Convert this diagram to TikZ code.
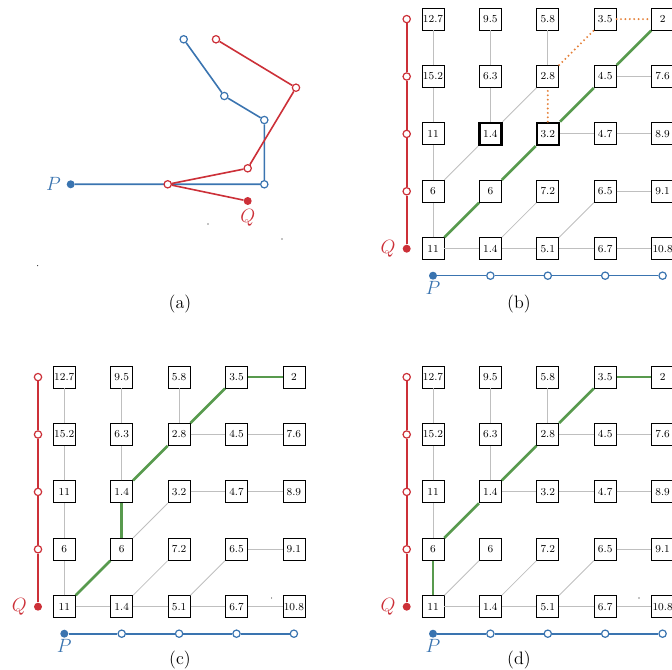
\documentclass[tikz,border=0pt]{standalone}
\usetikzlibrary{positioning,backgrounds}

\definecolor{pblue}{RGB}{58,116,176}
\definecolor{qred}{RGB}{204,48,56}
\definecolor{pathgreen}{RGB}{88,154,78}
\definecolor{dporange}{RGB}{228,128,56}

\tikzset{
  cell/.style={draw=black,line width=0.6pt,fill=white,minimum size=16.5pt,inner sep=0pt,font=\footnotesize},
  marked/.style={line width=1.8pt},
  link/.style={draw=black!25,line width=0.6pt},
  best/.style={draw=pathgreen,line width=2pt},
  probe/.style={draw=dporange,line width=1.6pt,dash pattern=on 0pt off 3.3pt,line cap=round},
  pline/.style={draw=pblue,line width=1.2pt},
  qline/.style={draw=qred,line width=1.2pt},
  popen/.style={circle,draw=pblue,fill=white,line width=0.9pt,minimum size=5.5pt,inner sep=0pt},
  qopen/.style={circle,draw=qred,fill=white,line width=0.9pt,minimum size=5.5pt,inner sep=0pt},
  pfull/.style={circle,fill=pblue,minimum size=6pt,inner sep=0pt},
  qfull/.style={circle,fill=qred,minimum size=6pt,inner sep=0pt},
  plabel/.style={font=\fontsize{15.5}{18}\selectfont,text=pblue,inner sep=2pt},
  qlabel/.style={font=\fontsize{15.5}{18}\selectfont,text=qred,inner sep=2pt},
  caption/.style={font=\fontsize{13.5}{16}\selectfont,inner sep=0pt},
  speck/.style={circle,fill=black,minimum size=0.8pt,inner sep=0pt}
}

% grid of costs, bottom-left cell at (#2,#3)
\newcommand{\costgrid}[3]{
\foreach \v [count=\k from 0] in {11,1.4,5.1,6.7,10.8,6,6,7.2,6.5,9.1,11,1.4,3.2,4.7,8.9,15.2,6.3,2.8,4.5,7.6,12.7,9.5,5.8,3.5,2}{
  \pgfmathtruncatemacro{\i}{mod(\k,5)}
  \pgfmathtruncatemacro{\j}{div(\k,5)}
  \node[cell,mark #1-\i-\j/.try] (#1-\i-\j) at ({#2+57.4*\i},{#3-57.4*\j}) {\v};
}
\node[pfull] (#1-p0) at (#2,{#3+27}) {};
\node[qfull] (#1-q0) at ({#2-26.3},#3) {};
\foreach \i in {1,...,4}{
  \node[popen] (#1-p\i) at ({#2+57.4*\i},{#3+27}) {};
  \node[qopen] (#1-q\i) at ({#2-26.3},{#3-57.4*\i}) {};
}
\foreach \i in {0,...,3}{
  \pgfmathtruncatemacro{\n}{\i+1}
  \draw[pline] (#1-p\i) -- (#1-p\n);
  \draw[qline] (#1-q\i) -- (#1-q\n);
}
\node[plabel,below=-1pt of #1-p0] (#1-plabel) {$P$};
\node[qlabel,left=3pt of #1-q0] (#1-qlabel) {$Q$};
\foreach \a/\b in {0-1/0-2,0-2/0-3,0-3/0-4,1-2/1-3,1-3/1-4,2-3/2-4,0-0/1-0,1-0/2-0,2-0/3-0,3-0/4-0,3-2/4-2,3-1/4-1,3-3/4-3,1-0/2-1,2-0/3-1}
  \draw[link] (#1-\a) -- (#1-\b);
}

\begin{document}
\begin{tikzpicture}[x=0.75pt,y=-0.75pt]
\useasboundingbox (0,0) rectangle (672,670);

% (a) the two curves
\node[pfull] (a-P) at (70.7,184.3) {};
\node[popen] (a-p1) at (264.3,184.3) {};
\node[popen] (a-p2) at (264.3,120) {};
\node[popen] (a-p3) at (224.3,96) {};
\node[popen] (a-p4) at (183.7,39.3) {};
\node[qfull] (a-Q) at (247.7,201) {};
\node[qopen] (a-q1) at (167.7,184.3) {};
\node[qopen] (a-q2) at (247.7,168.3) {};
\node[qopen] (a-q3) at (296,87.7) {};
\node[qopen] (a-q4) at (216,39.3) {};
\begin{scope}[on background layer]
\draw[pline] (a-P) -- (a-p1) -- (a-p2) -- (a-p3) -- (a-p4);
\draw[qline] (a-Q) -- (a-q1) -- (a-q2) -- (a-q3) -- (a-q4);
\end{scope}
\node[plabel,left=2pt of a-P] (a-plabel) {$P$};
\node[qlabel,below=1pt of a-Q] (a-qlabel) {$Q$};
\node[speck] (a-s1) at (208,224) {};
\node[speck] (a-s2) at (282,239) {};
\node[speck] (a-s3) at (37.7,265.7) {};
\node[caption] (a-cap) at (180,304) {(a)};

% (b)
\tikzset{mark b-1-2/.style={marked}, mark b-2-2/.style={marked}}
\costgrid{b}{433}{248.7}
\foreach \a/\b in {0-0/0-1,2-2/3-2,0-1/1-2,1-2/2-3}
  \draw[link] (b-\a) -- (b-\b);
\foreach \a/\b in {0-0/1-1,1-1/2-2,2-2/3-3,3-3/4-4}
  \draw[best] (b-\a) -- (b-\b);
\foreach \a/\b in {2-2/2-3,2-3/3-4,3-4/4-4}
  \draw[probe] (b-\a) -- (b-\b);
\node[caption] (b-cap) at (519,304) {(b)};

% (c)
\costgrid{c}{64.3}{606.7}
\foreach \a/\b in {0-0/0-1,2-2/3-2,2-3/3-3,1-1/2-2}
  \draw[link] (c-\a) -- (c-\b);
\foreach \a/\b in {0-0/1-1,1-1/1-2,1-2/2-3,2-3/3-4,3-4/4-4}
  \draw[best] (c-\a) -- (c-\b);
\node[speck] (c-s1) at (271.7,598) {};
\node[caption] (c-cap) at (180,660) {(c)};

% (d)
\costgrid{d}{433}{606.7}
\foreach \a/\b in {1-2/2-2,2-2/3-2,2-3/3-3,0-0/1-1}
  \draw[link] (d-\a) -- (d-\b);
\foreach \a/\b in {0-0/0-1,0-1/1-2,1-2/2-3,2-3/3-4,3-4/4-4}
  \draw[best] (d-\a) -- (d-\b);
\node[speck] (d-s1) at (639,598) {};
\node[caption] (d-cap) at (519,660) {(d)};

\end{tikzpicture}
\end{document}
